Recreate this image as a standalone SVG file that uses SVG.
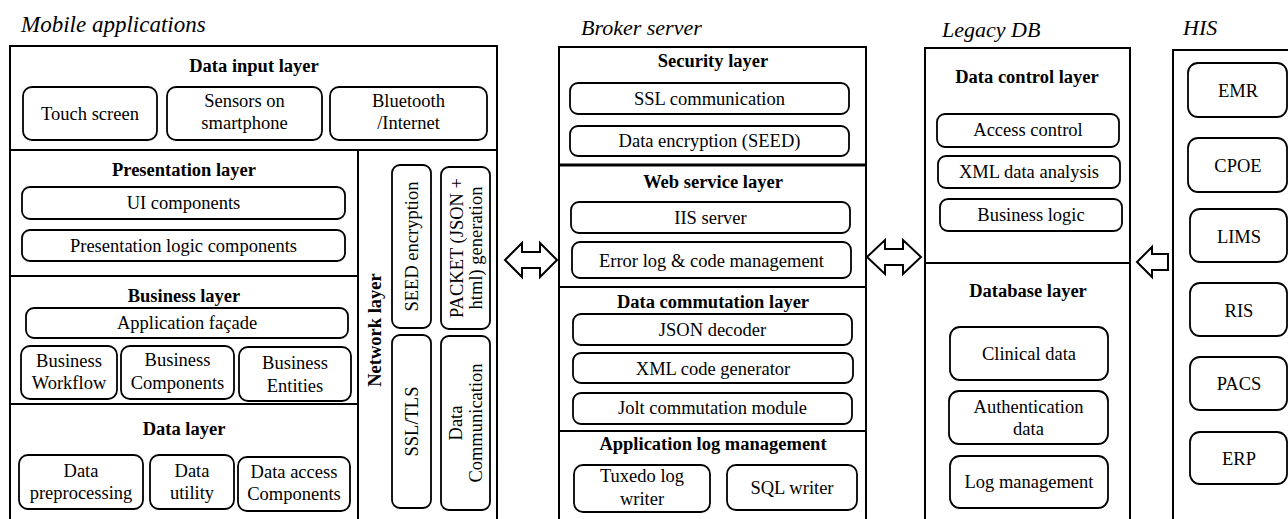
<svg xmlns="http://www.w3.org/2000/svg" width="1288" height="519" viewBox="0 0 1288 519">
<style>
.frame{fill:none;stroke:#000;stroke-width:2}
.div{stroke:#000;stroke-width:2}
.box{fill:#fff;stroke:#000;stroke-width:1.8}
.arrow{fill:#fff;stroke:#000;stroke-width:2;stroke-linejoin:miter}
text{font-family:"Liberation Serif","Times New Roman",serif;font-size:18.5px;fill:#000;text-anchor:middle}
.h{font-weight:bold}
.title{font-style:italic;font-size:22px;text-anchor:start}
</style>
<rect width="1288" height="519" fill="#fff"/>

<g id="mobile">
  <text class="title" x="21" y="32" style="font-size:23px">Mobile applications</text>
  <rect class="frame" x="10" y="46" width="487" height="490"/>
  <line class="div" x1="10" y1="150" x2="497" y2="150"/>
  <line class="div" x1="358" y1="150" x2="358" y2="530"/>
  <line class="div" x1="10" y1="276" x2="358" y2="276"/>
  <line class="div" x1="10" y1="404" x2="358" y2="404"/>
  <g id="data-input-layer">
    <text class="h" x="254" y="72">Data input  layer</text>
    <rect class="box" x="23" y="87" width="134" height="53" rx="9"/>
    <text x="90" y="120">Touch screen</text>
    <rect class="box" x="167" y="87" width="155" height="53" rx="9"/>
    <text x="244.5" y="107">Sensors on</text>
    <text x="244.5" y="129">smartphone</text>
    <rect class="box" x="330" y="87" width="157" height="53" rx="9"/>
    <text x="408.5" y="107">Bluetooth</text>
    <text x="408.5" y="129">/Internet</text>
  </g>
  <g id="presentation-layer">
    <text class="h" x="184" y="176">Presentation layer</text>
    <rect class="box" x="22" y="187" width="323" height="32" rx="8"/>
    <text x="183.5" y="209">UI components</text>
    <rect class="box" x="22" y="230" width="323" height="31" rx="8"/>
    <text x="183.5" y="252">Presentation logic components</text>
  </g>
  <g id="business-layer">
    <text class="h" x="184" y="302">Business layer</text>
    <rect class="box" x="26" y="308" width="322" height="30" rx="8"/>
    <text x="187" y="329">Application  façade</text>
    <rect class="box" x="21" y="346" width="96" height="53" rx="9"/>
    <text x="69" y="367">Business</text>
    <text x="69" y="389">Workflow</text>
    <rect class="box" x="121" y="346" width="113" height="53" rx="9"/>
    <text x="177.5" y="366">Business</text>
    <text x="177.5" y="389">Components</text>
    <rect class="box" x="239" y="347" width="112" height="54" rx="9"/>
    <text x="295" y="369">Business</text>
    <text x="295" y="392">Entities</text>
  </g>
  <g id="data-layer">
    <text class="h" x="184" y="435">Data layer</text>
    <rect class="box" x="19" y="455" width="124" height="54" rx="9"/>
    <text x="81" y="477">Data</text>
    <text x="81" y="499">preprocessing</text>
    <rect class="box" x="150" y="455" width="84" height="54" rx="9"/>
    <text x="192" y="477">Data</text>
    <text x="192" y="499">utility</text>
    <rect class="box" x="238" y="457" width="112" height="54" rx="9"/>
    <text x="294" y="478">Data access</text>
    <text x="294" y="500">Components</text>
  </g>
  <g id="network-layer">
    <text class="h" transform="translate(381,330) rotate(-90)">Network layer</text>
    <rect class="box" x="392" y="165" width="39" height="163" rx="8"/>
    <text transform="translate(418,246.5) rotate(-90)">SEED encryption</text>
    <rect class="box" x="441" y="167" width="49" height="162" rx="8"/>
    <text transform="translate(463,248) rotate(-90)">PACKET (JSON +</text>
    <text transform="translate(482,248) rotate(-90)">html) generation</text>
    <rect class="box" x="392" y="335" width="39" height="173" rx="8"/>
    <text transform="translate(418,421.5) rotate(-90)">SSL/TLS</text>
    <rect class="box" x="441" y="336" width="49" height="174" rx="8"/>
    <text transform="translate(462,423) rotate(-90)">Data</text>
    <text transform="translate(482,423) rotate(-90)">Communication</text>
  </g>
</g>

<g id="broker">
  <text class="title" x="581" y="35">Broker server</text>
  <rect class="frame" x="559" y="47" width="307" height="490"/>
  <line x1="559" y1="165" x2="866" y2="165" stroke="#000" stroke-width="3"/>
  <line class="div" x1="559" y1="287" x2="866" y2="287"/>
  <line class="div" x1="559" y1="431" x2="866" y2="431"/>
  <g id="security-layer">
    <text class="h" x="713" y="67">Security layer</text>
    <rect class="box" x="570" y="83" width="279" height="31" rx="8"/>
    <text x="709.5" y="105">SSL  communication</text>
    <rect class="box" x="570" y="126" width="279" height="30" rx="8"/>
    <text x="709.5" y="147">Data encryption (SEED)</text>
  </g>
  <g id="web-service-layer">
    <text class="h" x="713" y="188">Web service layer</text>
    <rect class="box" x="571" y="202" width="279" height="31" rx="8"/>
    <text x="710.5" y="224">IIS  server</text>
    <rect class="box" x="572" y="242" width="279" height="36" rx="8"/>
    <text x="711.5" y="267">Error log &amp; code management</text>
  </g>
  <g id="data-commutation-layer">
    <text class="h" x="713" y="308">Data commutation layer</text>
    <rect class="box" x="573" y="314" width="279" height="31" rx="8"/>
    <text x="712.5" y="336">JSON decoder</text>
    <rect class="box" x="573" y="353" width="280" height="30" rx="8"/>
    <text x="713" y="375">XML  code generator</text>
    <rect class="box" x="573" y="393" width="279" height="31" rx="8"/>
    <text x="712.5" y="414">Jolt commutation module</text>
  </g>
  <g id="application-log-management">
    <text class="h" x="713" y="450">Application log management</text>
    <rect class="box" x="574" y="465" width="136" height="47" rx="9"/>
    <text x="642" y="482">Tuxedo log</text>
    <text x="642" y="505">writer</text>
    <rect class="box" x="727" y="465" width="130" height="45" rx="9"/>
    <text x="792" y="494">SQL  writer</text>
  </g>
</g>

<g id="legacy-db">
  <text class="title" x="942" y="37">Legacy DB</text>
  <rect class="frame" x="925" y="48" width="205" height="490"/>
  <line class="div" x1="925" y1="263" x2="1130" y2="263"/>
  <g id="data-control-layer">
    <text class="h" x="1027" y="83">Data control layer</text>
    <rect class="box" x="937" y="114" width="182" height="33" rx="8"/>
    <text x="1028" y="136">Access  control</text>
    <rect class="box" x="938" y="156" width="182" height="32" rx="8"/>
    <text x="1029" y="178">XML  data analysis</text>
    <rect class="box" x="940" y="199" width="182" height="32" rx="8"/>
    <text x="1031" y="221">Business logic</text>
  </g>
  <g id="database-layer">
    <text class="h" x="1028" y="297">Database layer</text>
    <rect class="box" x="950" y="327" width="158" height="53" rx="10"/>
    <text x="1029" y="360">Clinical data</text>
    <rect class="box" x="949" y="391" width="159" height="53" rx="10"/>
    <text x="1028.5" y="413">Authentication</text>
    <text x="1028.5" y="435">data</text>
    <rect class="box" x="950" y="456" width="158" height="52" rx="10"/>
    <text x="1029" y="488">Log management</text>
  </g>
</g>

<g id="his">
  <text class="title" x="1183" y="35">HIS</text>
  <rect class="frame" x="1173" y="50" width="140" height="490"/>
  <rect class="box" x="1188" y="63" width="99" height="54" rx="10"/>
  <text x="1238" y="97">EMR</text>
  <rect class="box" x="1188" y="138" width="99" height="54" rx="10"/>
  <text x="1238" y="172">CPOE</text>
  <rect class="box" x="1190" y="209" width="97" height="53" rx="10"/>
  <text x="1239" y="243">LIMS</text>
  <rect class="box" x="1190" y="283" width="97" height="53" rx="10"/>
  <text x="1239" y="317">RIS</text>
  <rect class="box" x="1190" y="357" width="97" height="53" rx="10"/>
  <text x="1239" y="390">PACS</text>
  <rect class="box" x="1190" y="432" width="97" height="52" rx="10"/>
  <text x="1239" y="465">ERP</text>
</g>

<g id="connectors">
  <path class="arrow" d="M505,260 L522,243 L522,252 L540,252 L540,243 L557,260 L540,277 L540,268 L522,268 L522,277 Z"/>
  <path class="arrow" d="M867,257 L885,240 L885,249 L903,249 L903,240 L921,257 L903,274 L903,265 L885,265 L885,274 Z"/>
  <path class="arrow" d="M1137,262 L1152,247 L1152,254 L1168,254 L1168,270 L1152,270 L1152,277 Z"/>
</g>
</svg>
